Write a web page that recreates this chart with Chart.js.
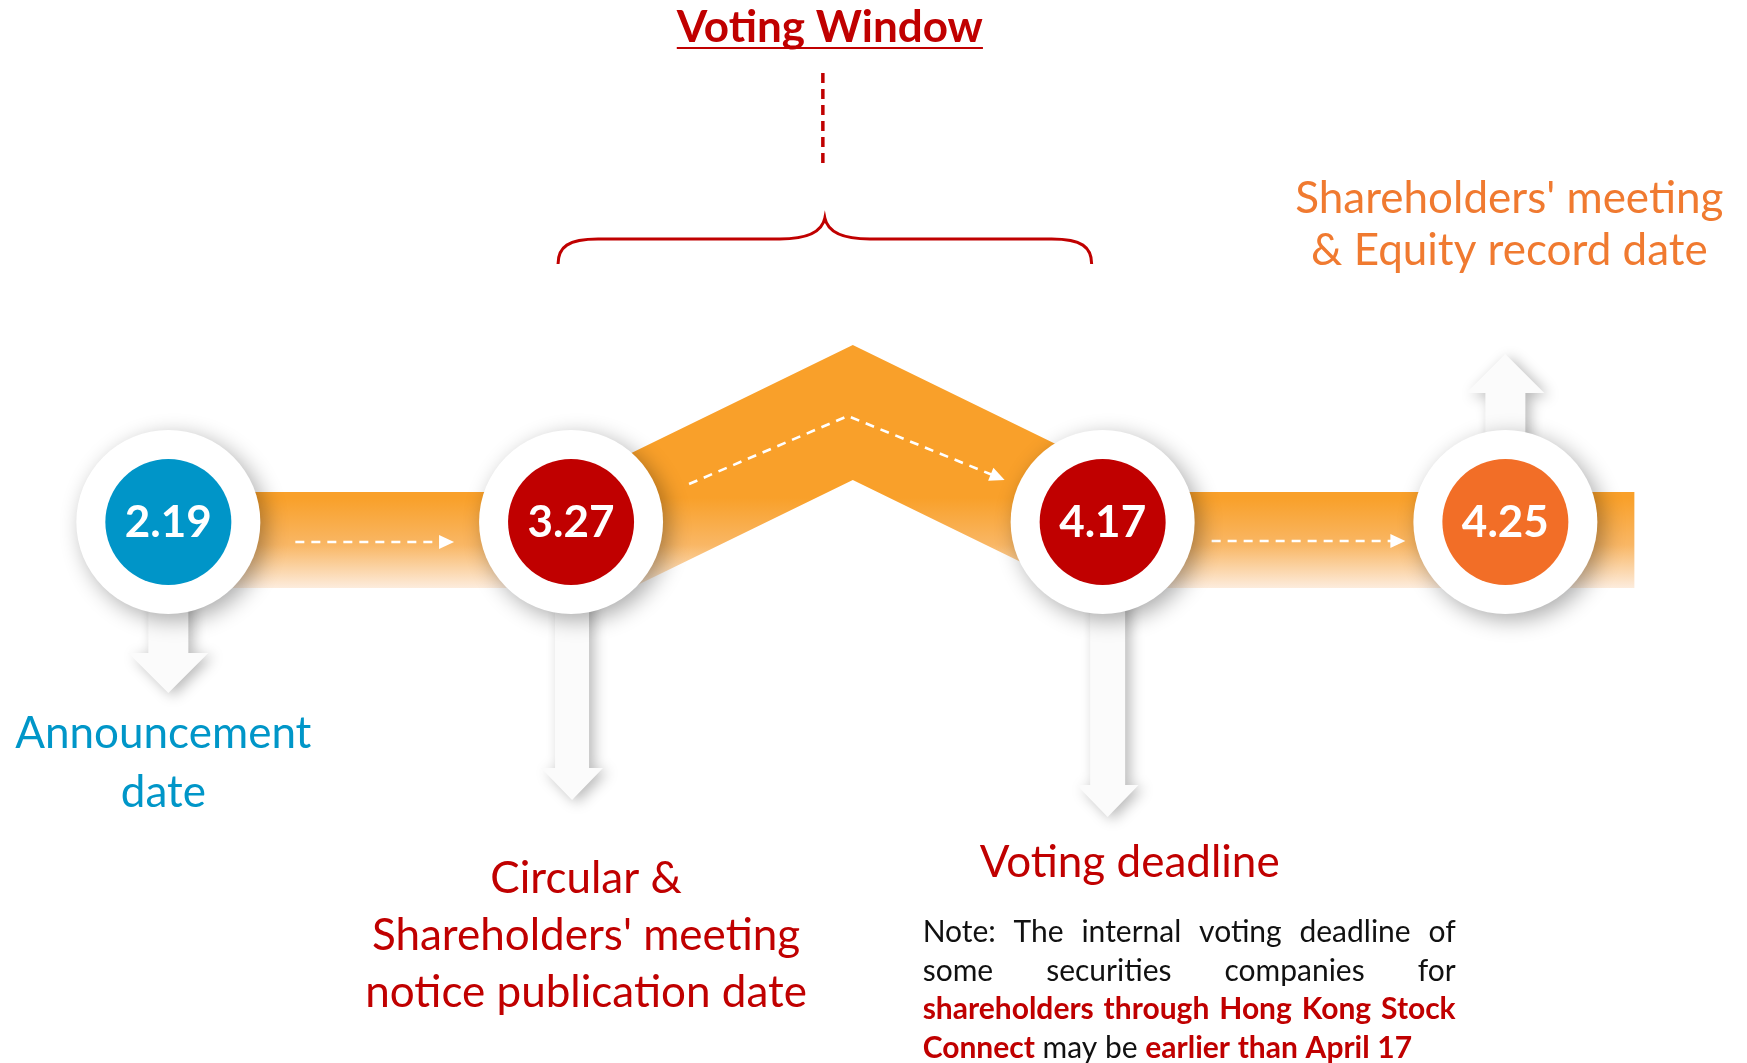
<!DOCTYPE html>
<html>
<head>
<meta charset="utf-8">
<script src="https://cdn.jsdelivr.net/npm/chart.js@4.4.1/dist/chart.umd.min.js"></script>
<style>
  html, body { margin: 0; padding: 0; background: #fff; }
  #timeline { display: block; }
</style>
</head>
<body>
<canvas id="timeline" width="1747" height="1063"></canvas>
<script>
// Milestones on the timeline
const dates = ['2.19', '3.27', '4.17', '4.25'];
const steps = [0, 1, 2.32, 3.32];
const captions = [
  ['Announcement', 'date'],
  ['Circular &', "Shareholders' meeting", 'notice publication date'],
  ['Voting deadline'],
  ["Shareholders' meeting", '& Equity record date']
];
const windowTitle = 'Voting Window';
// Note under the voting deadline (bold runs are red)
const noteLines = [
  [{ t: 'Note: The internal voting deadline of', b: false }],
  [{ t: 'some securities companies for', b: false }],
  [{ t: 'shareholders through Hong Kong Stock', b: true }],
  [{ t: 'Connect', b: true }, { t: 'may be', b: false }, { t: 'earlier than April 17', b: true }]
];

// Colours
const circleColors = ['#0095C8', '#C00000', '#C00000', '#F26E27'];
const captionColors = ['#0096C8', '#C00000', '#C00000', '#F07A30'];
const captionSizes = [44, 44, 44, 44];
const red = '#C00000';
const font = 'Lato, "Open Sans", sans-serif';

// Pointer arrows below / above each circle: direction, length, shaft, head, head length, x shift
const arrows = [
  { dir: 1, len: 171, shaft: 40, head: 80, headLen: 40, dx: 0 },
  { dir: 1, len: 278, shaft: 34, head: 62, headLen: 32, dx: 1 },
  { dir: 1, len: 295, shaft: 35, head: 62, headLen: 32, dx: 5 },
  { dir: -1, len: 168, shaft: 40, head: 78, headLen: 39, dx: 0 }
];

function arrowHead(ctx, x1, y1, x2, y2, len, half) {
  const a = Math.atan2(y2 - y1, x2 - x1);
  ctx.beginPath();
  ctx.moveTo(x2, y2);
  ctx.lineTo(x2 - len * Math.cos(a) + half * Math.sin(a), y2 - len * Math.sin(a) - half * Math.cos(a));
  ctx.lineTo(x2 - len * Math.cos(a) - half * Math.sin(a), y2 - len * Math.sin(a) + half * Math.cos(a));
  ctx.closePath();
  ctx.fill();
}

// Dashed white line through a list of points, ending with an arrow head
function dashedArrow(ctx, pts) {
  ctx.save();
  ctx.strokeStyle = '#fff';
  ctx.fillStyle = '#fff';
  ctx.lineWidth = 2.6;
  ctx.setLineDash([9, 7]);
  const n = pts.length;
  const [px, py] = pts[n - 2];
  const [tx, ty] = pts[n - 1];
  const d = Math.hypot(tx - px, ty - py);
  ctx.beginPath();
  ctx.moveTo(pts[0][0], pts[0][1]);
  for (let i = 1; i < n - 1; i++) ctx.lineTo(pts[i][0], pts[i][1]);
  ctx.lineTo(tx - (tx - px) * 13 / d, ty - (ty - py) * 13 / d);
  ctx.stroke();
  ctx.setLineDash([]);
  arrowHead(ctx, px, py, tx, ty, 15, 7);
  ctx.restore();
}

function whiteArrow(ctx, x, y, a) {
  const tipY = y + a.dir * a.len;
  const baseY = tipY - a.dir * a.headLen;
  ctx.beginPath();
  ctx.moveTo(x - a.shaft / 2, y);
  ctx.lineTo(x - a.shaft / 2, baseY);
  ctx.lineTo(x - a.head / 2, baseY);
  ctx.lineTo(x, tipY);
  ctx.lineTo(x + a.head / 2, baseY);
  ctx.lineTo(x + a.shaft / 2, baseY);
  ctx.lineTo(x + a.shaft / 2, y);
  ctx.closePath();
  ctx.fill();
}

// Orange band, dashed arrows and white pointers, under the circles
const bandPlugin = {
  id: 'band',
  beforeDatasetsDraw(chart) {
    const { ctx, scales: { x, y } } = chart;
    const cx = steps.map(s => x.getPixelForValue(s));
    const cy = y.getPixelForValue(0);
    const top = cy - 30, bot = cy + 66;

    ctx.save();
    const grad = ctx.createLinearGradient(0, cy - 24, 0, cy + 70);
    grad.addColorStop(0, '#F9A02A');
    grad.addColorStop(0.5, '#F9B765');
    grad.addColorStop(1, '#FDF1E8');
    ctx.fillStyle = grad;
    ctx.fillRect(cx[0], top, cx[1] - cx[0], bot - top);
    ctx.fillRect(cx[2], top, cx[3] + 129 - cx[2], bot - top);

    // chevron between 3.27 and 4.17
    const peakX = cx[1] + 0.53 * (cx[2] - cx[1]);
    const pTop = cy - 177, pIn = cy - 42, k = 0.488;
    const a = cx[1] + 8, b = cx[2] - 8;
    ctx.beginPath();
    ctx.moveTo(a, pTop + k * (peakX - a));
    ctx.lineTo(peakX, pTop);
    ctx.lineTo(b, pTop + k * (b - peakX));
    ctx.lineTo(b, pIn + k * (b - peakX));
    ctx.lineTo(peakX, pIn);
    ctx.lineTo(a, pIn + k * (peakX - a));
    ctx.closePath();
    ctx.fill();
    ctx.restore();

    dashedArrow(ctx, [[cx[0] + 127, cy + 20], [cx[1] - 117, cy + 20]]);
    dashedArrow(ctx, [[cx[1] + 118, cy - 38], [peakX - 5, cy - 106], [cx[2] - 98, cy - 42]]);
    dashedArrow(ctx, [[cx[2] + 109, cy + 19], [cx[3] - 100, cy + 19]]);

    ctx.save();
    ctx.fillStyle = '#FBFBFB';
    ctx.shadowColor = 'rgba(0,0,0,0.28)';
    ctx.shadowBlur = 14;
    ctx.shadowOffsetX = 5;
    ctx.shadowOffsetY = 3;
    arrows.forEach((ar, i) => whiteArrow(ctx, cx[i] + ar.dx, cy, ar));
    ctx.restore();
  }
};

// Soft shadow under the white rings
const ringShadow = {
  id: 'ringShadow',
  beforeDatasetDraw(chart, args) {
    if (args.index !== 0) return;
    const ctx = chart.ctx;
    ctx.save();
    ctx.shadowColor = 'rgba(0,0,0,0.33)';
    ctx.shadowBlur = 22;
    ctx.shadowOffsetX = 6;
    ctx.shadowOffsetY = 6;
  },
  afterDatasetDraw(chart, args) {
    if (args.index !== 0) return;
    chart.ctx.restore();
  }
};

function drawLines(ctx, lines, x, y, lineH) {
  lines.forEach((l, i) => ctx.fillText(l, x, y + i * lineH));
}

function drawNote(ctx, left, width, y, lineH, size) {
  const reg = `400 ${size}px ${font}`;
  const bold = `700 ${size}px ${font}`;
  noteLines.forEach((runs, li) => {
    const words = [];
    runs.forEach(r => r.t.split(' ').forEach(w => words.push({ w, b: r.b })));
    let total = 0;
    words.forEach(o => { ctx.font = o.b ? bold : reg; o.wd = ctx.measureText(o.w).width; total += o.wd; });
    const last = li === noteLines.length - 1;
    ctx.font = reg;
    const gap = last ? ctx.measureText(' ').width : (width - total) / (words.length - 1);
    let xx = left;
    words.forEach(o => {
      ctx.font = o.b ? bold : reg;
      ctx.fillStyle = o.b ? red : '#111';
      ctx.fillText(o.w, xx, y + li * lineH);
      xx += o.wd + gap;
    });
  });
}

// Dates, captions, voting window and note
const labelPlugin = {
  id: 'labels',
  afterDatasetsDraw(chart) {
    const { ctx, scales: { x, y } } = chart;
    const cx = steps.map(s => x.getPixelForValue(s));
    const cy = y.getPixelForValue(0);
    ctx.save();
    ctx.textAlign = 'center';
    ctx.textBaseline = 'alphabetic';

    ctx.fillStyle = '#fff';
    ctx.font = `700 44px ${font}`;
    dates.forEach((d, i) => ctx.fillText(d, cx[i], cy + 15));

    const cap = (i, dx, dy, lh) => {
      ctx.font = `400 ${captionSizes[i]}px ${font}`;
      ctx.fillStyle = captionColors[i];
      drawLines(ctx, captions[i], cx[i] + dx, cy + dy, lh);
    };
    cap(0, -5, 226, 59);
    cap(1, 15, 371, 57);
    cap(2, 27, 355, 57);
    cap(3, 4, -309, 52);

    // voting window title
    const mid = (cx[1] + cx[2]) / 2 - 12;
    ctx.fillStyle = red;
    ctx.font = `700 44px ${font}`;
    ctx.fillText(windowTitle, mid + 5, 42);
    const tw = ctx.measureText(windowTitle).width;
    ctx.fillRect(mid + 5 - tw / 2, 47, tw, 2);

    // dashed connector
    ctx.strokeStyle = red;
    ctx.lineWidth = 3.5;
    ctx.setLineDash([10, 6]);
    ctx.beginPath();
    ctx.moveTo(mid - 2, 73);
    ctx.lineTo(mid - 2, 167);
    ctx.stroke();
    ctx.setLineDash([]);

    // curly brace over the window
    const L = cx[1] - 13, R = cx[2] - 11, C = (L + R) / 2;
    const hy = 239, ey = 264, ty = 218;
    ctx.lineWidth = 3;
    ctx.beginPath();
    ctx.moveTo(L, ey);
    ctx.bezierCurveTo(L, hy + 8, L + 10, hy, L + 40, hy);
    ctx.lineTo(C - 45, hy);
    ctx.bezierCurveTo(C - 20, hy, C - 3, hy - 6, C, ty);
    ctx.bezierCurveTo(C + 3, hy - 6, C + 20, hy, C + 45, hy);
    ctx.lineTo(R - 40, hy);
    ctx.bezierCurveTo(R - 10, hy, R, hy + 8, R, ey);
    ctx.stroke();

    ctx.textAlign = 'left';
    drawNote(ctx, cx[2] - 180, 533, cy + 420, 38.7, 30);
    ctx.restore();
  }
};

const ctx = document.getElementById('timeline').getContext('2d');
new Chart(ctx, {
  type: 'scatter',
  data: {
    datasets: [
      {
        label: 'ring',
        data: steps.map(s => ({ x: s, y: 0 })),
        backgroundColor: '#fff',
        borderWidth: 0,
        pointRadius: 92,
        pointHoverRadius: 92,
        order: 2,
        clip: false
      },
      {
        label: 'date',
        data: steps.map(s => ({ x: s, y: 0 })),
        backgroundColor: circleColors,
        borderWidth: 0,
        pointRadius: 63,
        pointHoverRadius: 63,
        order: 1,
        clip: false
      }
    ]
  },
  options: {
    responsive: false,
    animation: false,
    events: [],
    devicePixelRatio: 1,
    layout: { padding: 0, autoPadding: false },
    scales: {
      x: { type: 'linear', min: -0.418, max: 3.92, display: false },
      y: { type: 'linear', min: -5.41, max: 5.22, display: false }
    },
    plugins: {
      legend: { display: false },
      tooltip: { enabled: false }
    }
  },
  plugins: [bandPlugin, ringShadow, labelPlugin]
});
</script>
</body>
</html>
